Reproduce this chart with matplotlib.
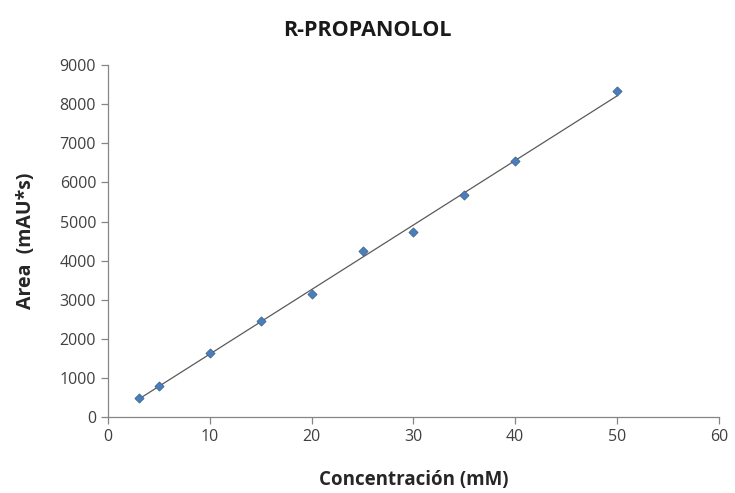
import numpy as np
import matplotlib.pyplot as plt

# concentration (mM) and peak area (mAU*s)
conc = [3, 5, 10, 15, 20, 25, 30, 35, 40, 50]
area = [490, 805, 1650, 2470, 3145, 4250, 4745, 5670, 6540, 8330]

plt.rcParams['font.family'] = ['Open Sans', 'DejaVu Sans']

fig = plt.figure(figsize=(7.35, 4.93), dpi=100)
ax = fig.add_axes([0.147, 0.1535, 0.831, 0.7145])

# linear trend line, like the spreadsheet one
slope, intercept = np.polyfit(conc, area, 1)
xs = np.array([min(conc), max(conc)])
ax.plot(xs, slope * xs + intercept, color='#5a5a5a', lw=0.9, zorder=2)

ax.scatter(conc, area, marker='D', s=22, color='#4a7ebb', edgecolors='#385d8a',
           linewidths=0.5, zorder=3)

ax.set_xlim(0, 60)
ax.set_ylim(0, 9000)
ax.set_xticks(range(0, 61, 10))
ax.set_yticks(range(0, 9001, 1000))

for side in ['top', 'right']:
    ax.spines[side].set_visible(False)
for side in ['left', 'bottom']:
    ax.spines[side].set_color('#868686')
    ax.spines[side].set_linewidth(0.9)
ax.tick_params(direction='out', length=5, width=0.9, color='#868686',
               labelsize=11.5, labelcolor='#404040')

fig.text(0.5, 0.938, 'R-PROPANOLOL', fontsize=15.5, fontweight='bold',
         ha='center', va='center', color='#1a1a1a')
ax.set_xlabel('Concentración (mM)', fontsize=13.5, fontweight='bold', labelpad=18,
              color='#262626')
ax.set_ylabel('Area  (mAU*s)', fontsize=14, fontweight='bold', labelpad=17,
              color='#262626')

fig.savefig('out.png', dpi=100)
